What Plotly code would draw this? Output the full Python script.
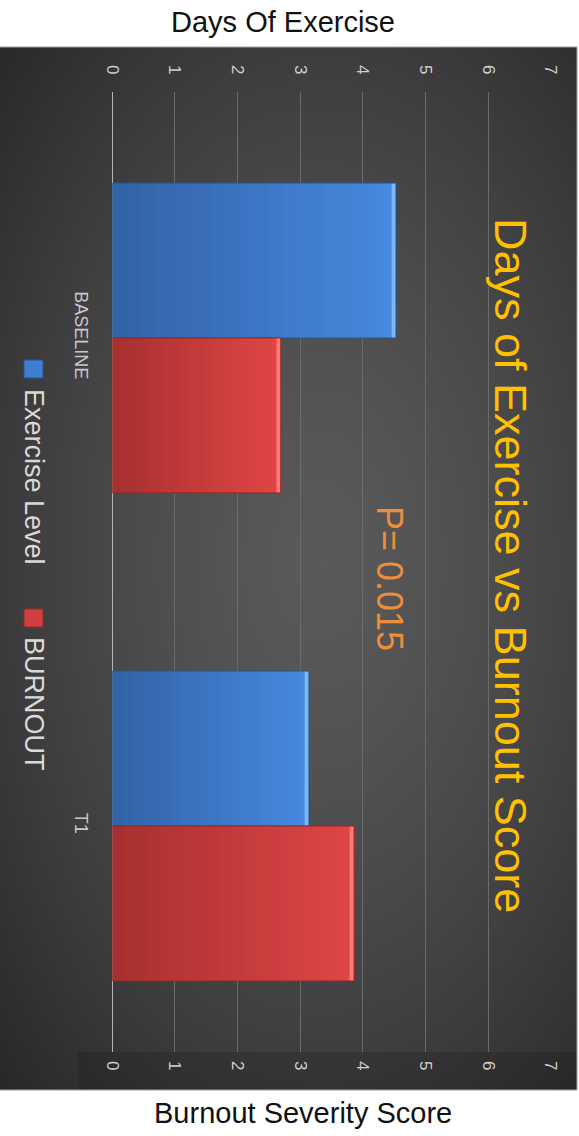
import base64
import struct
import zlib

import numpy as np
import plotly.graph_objects as go

# ---------------- data ----------------
categories = ["BASELINE", "T1"]
exercise_level = [4.53, 3.14]
burnout = [2.69, 3.86]
series_names = ["Exercise Level", "BURNOUT"]
tick_values = [0, 1, 2, 3, 4, 5, 6, 7]
tick_labels = ["0", "1", "2", "3", "4", "5", "6", "7"]

W, H = 579, 1136
PANEL = (0, 47, 577, 1090)  # x0, y0, x1, y1 in page pixels


def px(x):
    return x / W


def py(y):
    return 1 - y / H


def lerp(c1, c2, t):
    return "rgb(%d,%d,%d)" % tuple(round(a + (b - a) * t) for a, b in zip(c1, c2))


def panel_png():
    x0, y0, x1, y1 = PANEL
    w, h = x1 - x0, y1 - y0
    xs = np.arange(w)[None, :] + x0
    ys = np.arange(h)[:, None] + y0
    d = np.sqrt(((xs - 320) / 460.0) ** 2 + ((ys - 560) / 780.0) ** 2)
    v = 90 - 52 * d ** 1.4
    v = np.clip(v, 38, 95)
    band = (ys >= 1052) & (xs >= 78)
    v = np.where(band, v * 0.86, v)
    img = np.repeat(v[:, :, None], 3, axis=2).astype(np.uint8)
    flat = img.reshape(h, w * 3).astype(np.int16)
    sub = flat.copy()
    sub[:, 3:] = (flat[:, 3:] - flat[:, :-3]) % 256
    sub = sub.astype(np.uint8)
    raw = b"".join(b"\x01" + sub[r].tobytes() for r in range(h))

    def chunk(tag, data):
        c = struct.pack(">I", len(data)) + tag + data
        return c + struct.pack(">I", zlib.crc32(tag + data) & 0xFFFFFFFF)

    png = b"\x89PNG\r\n\x1a\n" + chunk(b"IHDR", struct.pack(">IIBBBBB", w, h, 8, 2, 0, 0, 0))
    png += chunk(b"IDAT", zlib.compress(raw, 9)) + chunk(b"IEND", b"")
    return "data:image/png;base64," + base64.b64encode(png).decode()


fig = go.Figure()

NSEG = 20
series = [
    (series_names[0], exercise_level, (50, 98, 165), (70, 138, 224), "#7ab8ff", "#2a5590"),
    (series_names[1], burnout, (166, 48, 48), (224, 70, 68), "#ff7a78", "#8e2a2a"),
]
for name, vals, dark, light, bevel, edge in series:
    for i in range(NSEG):
        fig.add_trace(go.Bar(
            y=categories, x=[v * (NSEG - i) / NSEG for v in vals], base=[v * i / NSEG for v in vals],
            orientation="h", offsetgroup=name, name=name, showlegend=False,
            marker=dict(color=lerp(dark, light, (i + 0.5) / NSEG), line=dict(width=0)),
            hoverinfo="skip",
        ))
    # bevel highlight at bar end
    fig.add_trace(go.Bar(
        y=categories, x=[0.07 for v in vals], base=[v - 0.07 for v in vals],
        orientation="h", offsetgroup=name, name=name, showlegend=False,
        marker=dict(color=bevel, line=dict(width=0)), hoverinfo="skip",
    ))
    # outline (the real bar)
    fig.add_trace(go.Bar(
        y=categories, x=vals, orientation="h", offsetgroup=name, name=name,
        showlegend=False, marker=dict(color="rgba(0,0,0,0)", line=dict(color=edge, width=1)),
    ))

# invisible trace so the bottom axis is drawn
fig.add_trace(go.Scatter(x=burnout, y=categories, xaxis="x2", yaxis="y", mode="markers",
                         marker=dict(opacity=0), showlegend=False, hoverinfo="skip"))

x0, y0, x1, y1 = PANEL
images = [dict(source=panel_png(), xref="paper", yref="paper", x=px(x0), y=py(y0),
               sizex=px(x1) - px(x0), sizey=py(y0) - py(y1), sizing="stretch",
               xanchor="left", yanchor="top", layer="below")]

shapes = []
for (a, b, c, d) in [(x0, y0, x1, y0), (x1, y0, x1, y1), (x0, y1, x1, y1)]:
    shapes.append(dict(type="line", xref="paper", yref="paper", x0=px(a), x1=px(c), y0=py(b), y1=py(d),
                       line=dict(color="#a0a0a0", width=1), layer="above"))
shapes.append(dict(type="rect", xref="paper", yref="paper", x0=px(24), x1=px(43), y0=py(378), y1=py(360),
                   fillcolor="#3f7ed0", line=dict(color="#2a5590", width=1), layer="above"))
shapes.append(dict(type="rect", xref="paper", yref="paper", x0=px(24), x1=px(43), y0=py(627), y1=py(609),
                   fillcolor="#d04040", line=dict(color="#8e2a2a", width=1), layer="above"))


def ann(text, x, y, size, color, angle=0):
    return dict(text=text, x=px(x), y=py(y), xref="paper", yref="paper", showarrow=False,
                xanchor="center", yanchor="middle", textangle=angle,
                font=dict(family="Liberation Sans, Arial", size=size, color=color))


annotations = [
    ann("Days Of Exercise", 283, 22, 29, "#111111"),
    ann("Burnout Severity Score", 303, 1113, 29, "#111111"),
    ann("Days of Exercise vs Burnout Score", 511, 565, 45, "#FFC000", 90),
    ann("P= 0.015", 390, 579, 36, "#EE8E3A", 90),
    ann(series_names[0], 34, 477, 27, "#d9d9d9", 90),
    ann(series_names[1], 34, 704, 27, "#d9d9d9", 90),
]

tickfont = dict(family="Liberation Sans, Arial", size=17, color="#cfcfcf")
fig.update_layout(
    width=W, height=H, margin=dict(l=0, r=0, t=0, b=0, pad=0), autosize=False,
    paper_bgcolor="white", plot_bgcolor="rgba(0,0,0,0)",
    barmode="group", bargap=0.365, bargroupgap=0,
    showlegend=False,
    xaxis=dict(domain=[px(112.3), px(550.7)], range=[0, 7], side="top", anchor="y", automargin=False,
               tickvals=tick_values, ticktext=tick_labels, tickangle=90, tickfont=tickfont,
               showgrid=True, gridcolor="#6b6b6b", gridwidth=1,
               zeroline=True, zerolinecolor="#b5b5b5", zerolinewidth=1,
               showline=False, ticks="", ticklabelstandoff=14, fixedrange=True),
    xaxis2=dict(domain=[px(112.3), px(550.7)], range=[0, 7], side="bottom", overlaying="x", anchor="y",
                automargin=False,
                tickvals=tick_values, ticktext=tick_labels, tickangle=90, tickfont=tickfont,
                showgrid=False, zeroline=False, showline=False, ticks="", ticklabelstandoff=8),
    yaxis=dict(domain=[py(1052), py(92)], range=[1.463, -0.504], type="category", automargin=False,
               tickangle=90, tickfont=dict(family="Liberation Sans, Arial", size=18, color="#c8c8c8"),
               showgrid=False, zeroline=False, showline=False, ticks="", ticklabelstandoff=18),
    shapes=shapes, annotations=annotations, images=images,
)

fig.write_html("out.html", post_script="document.body.style.margin='0';document.body.style.overflow='hidden';")
